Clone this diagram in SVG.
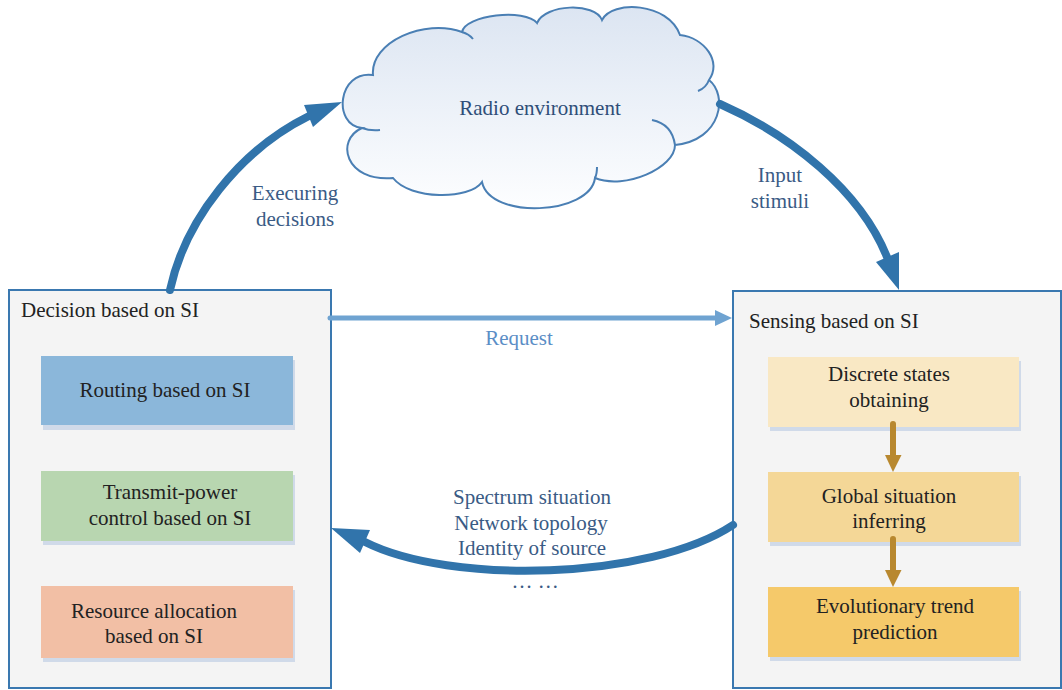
<svg xmlns="http://www.w3.org/2000/svg" width="1062" height="690" viewBox="0 0 1062 690" font-family="'Liberation Serif', serif" font-size="21">
<defs>
<linearGradient id="cloudGrad" x1="0" y1="0" x2="0" y2="1">
<stop offset="0" stop-color="#dce5f2"/>
<stop offset="1" stop-color="#fdfeff"/>
</linearGradient>
<style>
.t{fill:#222222;text-anchor:middle;}
.title{fill:#222222;}
.lbl{fill:#3a5b85;text-anchor:middle;}
.req{fill:#5b8ec6;text-anchor:middle;}
.outer{fill:#f4f4f4;stroke:#3a78b0;stroke-width:2;}
.shadow{fill:#d0dae9;}
.big{fill:none;stroke:#3174ab;stroke-width:8;stroke-linecap:round;}
.bighead{fill:#3174ab;}
.brown{stroke:#b8882f;stroke-width:6;stroke-linecap:round;}
.brownhead{fill:#b8882f;}
.cloudline{fill:none;stroke:#4a7fb4;stroke-width:2;}
</style>
</defs>

<g id="cloud">
<path d="M373,75 C370,42 425,18 462,32 C465,15 525,8 537,23 C545,4 595,2 602,20 C612,0 668,2 680,35 C705,38 722,62 709,80 C728,95 722,140 675,145 C675,168 625,190 595,178 C590,215 490,220 482,182 C470,200 410,200 393,178 C345,182 335,140 362,128 C332,125 338,70 373,75 Z" fill="url(#cloudGrad)" stroke="#4a7fb4" stroke-width="2"/>
<path class="cloudline" d="M462,32 Q469,34 473,39"/>
<path class="cloudline" d="M709,80 Q706,88 698,91"/>
<path class="cloudline" d="M652,120 Q672,124 675,145"/>
<path class="cloudline" d="M597,167 Q597,174 595,178"/>
<path class="cloudline" d="M362,128 Q370,131 380,130"/>
<text x="540" y="115" text-anchor="middle" fill="#2f4e78">Radio environment</text>
</g>

<g id="decision">
<rect class="outer" x="9" y="290" width="322" height="398"/>
<text class="title" x="21" y="317">Decision based on SI</text>
</g>
<g id="routing">
<rect class="shadow" x="43" y="360" width="252" height="70"/>
<rect x="41" y="356" width="252" height="69" fill="#8bb7da"/>
<text class="t" x="165" y="397">Routing based on SI</text>
</g>
<g id="power">
<rect class="shadow" x="43" y="475" width="252" height="70"/>
<rect x="41" y="471" width="252" height="70" fill="#b8d6b0"/>
<text class="t" x="170" y="499">Transmit-power</text>
<text class="t" x="170" y="525">control based on SI</text>
</g>
<g id="resource">
<rect class="shadow" x="43" y="590" width="252" height="72"/>
<rect x="41" y="586" width="252" height="72" fill="#f2bfa5"/>
<text class="t" x="154" y="618">Resource allocation</text>
<text class="t" x="154" y="643">based on SI</text>
</g>

<g id="sensing">
<rect class="outer" x="733" y="291" width="328" height="397"/>
<text class="title" x="749" y="328">Sensing based on SI</text>
</g>
<g id="discrete">
<rect class="shadow" x="770" y="361" width="251" height="70"/>
<rect x="768" y="357" width="251" height="70" fill="#f9e8c4"/>
<text class="t" x="889" y="381">Discrete states</text>
<text class="t" x="889" y="407">obtaining</text>
</g>
<g id="global">
<rect class="shadow" x="770" y="476" width="251" height="70"/>
<rect x="768" y="472" width="251" height="70" fill="#f4d797"/>
<text class="t" x="889" y="503">Global situation</text>
<text class="t" x="889" y="528">inferring</text>
</g>
<g id="trend">
<rect class="shadow" x="770" y="591" width="251" height="70"/>
<rect x="768" y="587" width="251" height="70" fill="#f5c96a"/>
<text class="t" x="895" y="613">Evolutionary trend</text>
<text class="t" x="895" y="639">prediction</text>
</g>

<g id="connectors">
<path class="big" d="M170,290 C185,220 240,150 309,116"/>
<polygon class="bighead" points="304,105 342,102 313,127"/>
<path class="big" d="M720,104 C790,135 860,190 887,257"/>
<polygon class="bighead" points="876,262 899,252 899,290"/>
<path class="big" d="M733,525 C650,580 450,585 365,542"/>
<polygon class="bighead" points="370,530 331,528 360,553"/>
<line x1="330" y1="318" x2="716" y2="318" stroke="#6fa3d1" stroke-width="5" stroke-linecap="round"/>
<polygon points="715,310 732,318 715,326" fill="#6fa3d1"/>
<line class="brown" x1="893" y1="424" x2="893" y2="456"/>
<polygon class="brownhead" points="885,455 901.5,455 893,472"/>
<line class="brown" x1="893" y1="539" x2="893" y2="571"/>
<polygon class="brownhead" points="885,570 901.5,570 893,587"/>
<text class="lbl" x="295" y="200">Execuring</text>
<text class="lbl" x="295" y="226">decisions</text>
<text class="lbl" x="780" y="182">Input</text>
<text class="lbl" x="780" y="208">stimuli</text>
<text class="req" x="519" y="345">Request</text>
<text class="lbl" x="532" y="504">Spectrum situation</text>
<text class="lbl" x="531" y="530">Network topology</text>
<text class="lbl" x="532" y="555">Identity of source</text>
<text class="lbl" x="535" y="588">… …</text>
</g>
</svg>
